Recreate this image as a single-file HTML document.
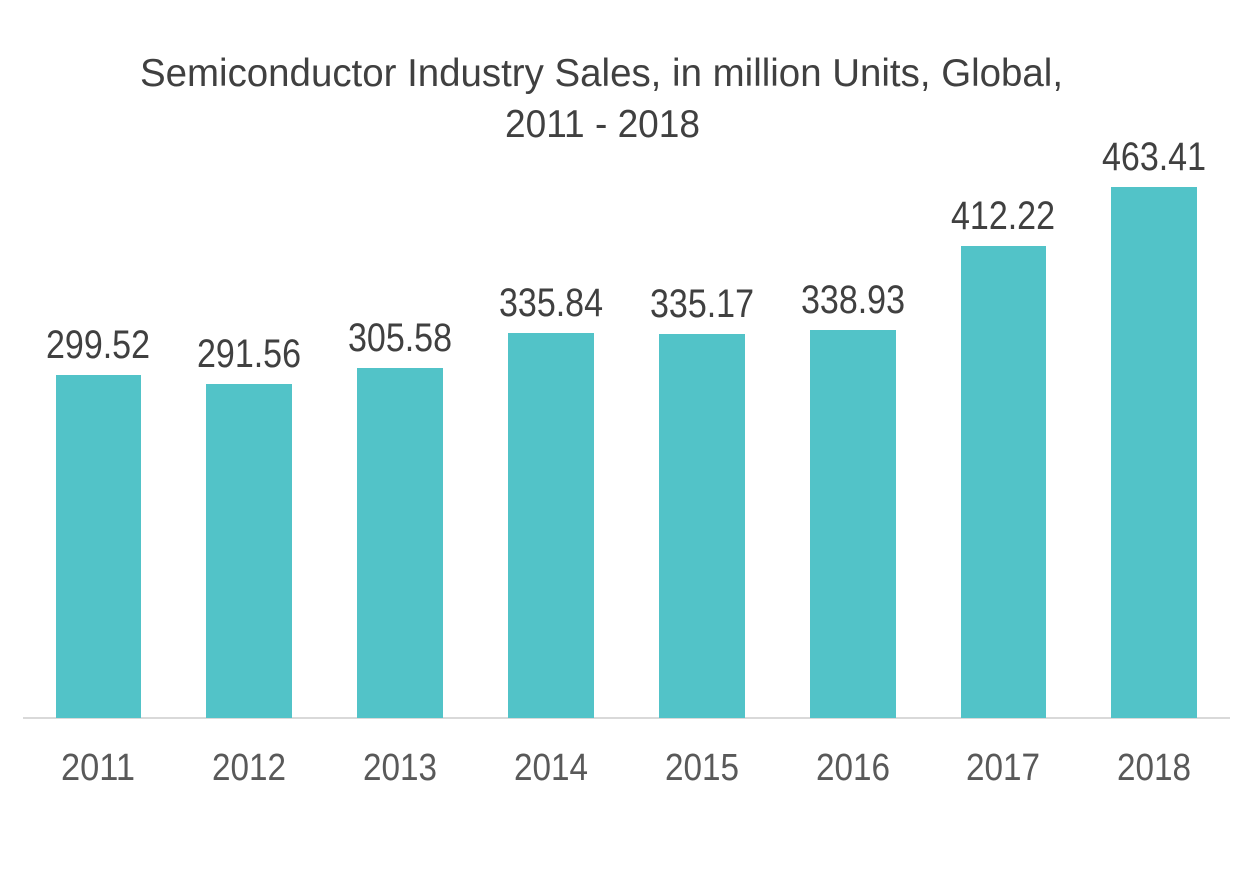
<!DOCTYPE html>
<html><head><meta charset="utf-8"><style>
html,body{margin:0;padding:0;background:#fff}
svg{display:block}
text{font-family:"Liberation Sans",sans-serif}
</style></head><body>
<svg width="1253" height="878" viewBox="0 0 1253 878" xmlns="http://www.w3.org/2000/svg">
<rect width="1253" height="878" fill="#fff"/>
<g fill="#404040" font-size="39">
<text x="140" y="86" textLength="923" lengthAdjust="spacingAndGlyphs">Semiconductor Industry Sales, in million Units, Global,</text>
<text x="505" y="137" textLength="195" lengthAdjust="spacingAndGlyphs">2011 - 2018</text>
</g>
<line x1="23" y1="718" x2="1230" y2="718" stroke="#d9d9d9" stroke-width="2"/>
<g fill="#52c3c8">
<rect x="56" y="375" width="85" height="343"/>
<rect x="206" y="384" width="86" height="334"/>
<rect x="357" y="368" width="86" height="350"/>
<rect x="508" y="333" width="86" height="385"/>
<rect x="659" y="334" width="86" height="384"/>
<rect x="810" y="330" width="86" height="388"/>
<rect x="961" y="246" width="85" height="472"/>
<rect x="1111" y="187" width="86" height="531"/>
</g>
<g fill="#404040" font-size="40" text-anchor="middle">
<text x="98" y="358" textLength="104" lengthAdjust="spacingAndGlyphs">299.52</text>
<text x="249" y="367" textLength="104" lengthAdjust="spacingAndGlyphs">291.56</text>
<text x="400" y="351" textLength="104" lengthAdjust="spacingAndGlyphs">305.58</text>
<text x="551" y="316" textLength="104" lengthAdjust="spacingAndGlyphs">335.84</text>
<text x="702" y="317" textLength="104" lengthAdjust="spacingAndGlyphs">335.17</text>
<text x="853" y="313" textLength="104" lengthAdjust="spacingAndGlyphs">338.93</text>
<text x="1003" y="229" textLength="104" lengthAdjust="spacingAndGlyphs">412.22</text>
<text x="1154" y="170" textLength="104" lengthAdjust="spacingAndGlyphs">463.41</text>
</g>
<g fill="#595959" font-size="38" text-anchor="middle">
<text x="98" y="780" textLength="74" lengthAdjust="spacingAndGlyphs">2011</text>
<text x="249" y="780" textLength="74" lengthAdjust="spacingAndGlyphs">2012</text>
<text x="400" y="780" textLength="74" lengthAdjust="spacingAndGlyphs">2013</text>
<text x="551" y="780" textLength="74" lengthAdjust="spacingAndGlyphs">2014</text>
<text x="702" y="780" textLength="74" lengthAdjust="spacingAndGlyphs">2015</text>
<text x="853" y="780" textLength="74" lengthAdjust="spacingAndGlyphs">2016</text>
<text x="1003" y="780" textLength="74" lengthAdjust="spacingAndGlyphs">2017</text>
<text x="1154" y="780" textLength="74" lengthAdjust="spacingAndGlyphs">2018</text>
</g>
</svg>
</body></html>
